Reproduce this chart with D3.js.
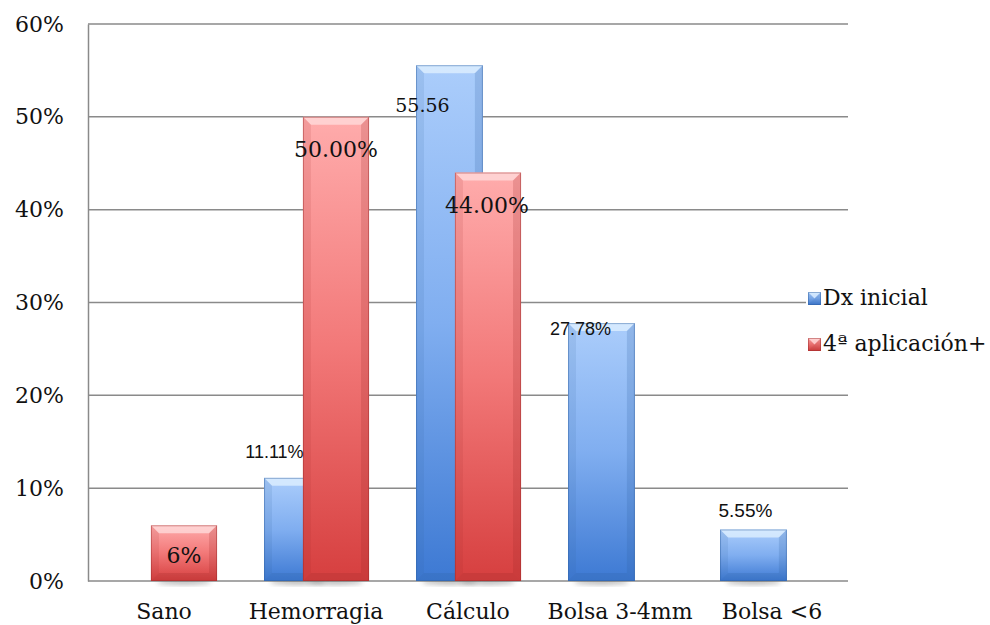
<!DOCTYPE html>
<html>
<head>
<meta charset="utf-8">
<script src="https://cdn.jsdelivr.net/npm/d3@7"></script>
<style>
  body { margin: 0; background: #fff; }
  svg { display: block; }
</style>
</head>
<body>
<svg id="chart"></svg>
<script>
const categories = ["Sano", "Hemorragia", "Cálculo", "Bolsa 3-4mm", "Bolsa <6"];
const seriesNames = ["Dx inicial", "4ª aplicación+"];
const dxInicial = [0, 11.11, 55.56, 27.78, 5.55];
const aplicacion4 = [6, 50, 44, 0, 0];
const dxLabels = [null, "11.11%", "55.56", "27.78%", "5.55%"];
const apLabels = ["6%", "50.00%", "44.00%", null, null];
const yTicks = [0, 10, 20, 30, 40, 50, 60];

// label placement / style (offset from bar centre and bar top)
const dxLabelStyle = [
  null,
  {dx: -23, dy: -20, font: "Liberation Sans", size: 18},
  {dx: -27, dy: 47, font: "DejaVu Serif", size: 19},
  {dx: -21, dy: 12, font: "Liberation Sans", size: 18},
  {dx: -8, dy: -12, font: "Liberation Sans", size: 19}
];
const apLabelStyle = [
  {dx: 0, dy: 38, font: "DejaVu Serif", size: 22},
  {dx: 0, dy: 40, font: "DejaVu Serif", size: 22},
  {dx: -1, dy: 40, font: "DejaVu Serif", size: 22},
  null, null
];

const width = 990, height = 625;
const margin = {top: 24, right: 142, bottom: 44, left: 88};
const grid = "#8a8a8a";
const serif = "'DejaVu Serif', serif";

const svg = d3.select("#chart").attr("width", width).attr("height", height);
const defs = svg.append("defs");

function gradient(id, stops) {
  const g = defs.append("linearGradient").attr("id", id)
    .attr("x1", 0).attr("y1", 0).attr("x2", 0).attr("y2", 1);
  stops.forEach(s => g.append("stop").attr("offset", s[0]).attr("stop-color", s[1]));
}
gradient("gBlue", [[0, "#abcdfb"], [0.5, "#80aef0"], [1, "#3d79d3"]]);
gradient("gRed", [[0, "#ffacac"], [0.5, "#f27878"], [1, "#d63f3f"]]);
defs.append("filter").attr("id", "blur").attr("x", "-50%").attr("y", "-50%")
  .attr("width", "200%").attr("height", "200%")
  .append("feGaussianBlur").attr("stdDeviation", 2.5);

const x = d3.scaleBand()
  .domain(categories)
  .range([margin.left, width - margin.right]);

const y = d3.scaleLinear()
  .domain([0, 60])
  .range([height - margin.bottom, margin.top]);

const series = [
  {name: seriesNames[0], values: dxInicial, labels: dxLabels, styles: dxLabelStyle,
   offset: 0.158, widthFrac: 0.44, fill: "url(#gBlue)", edge: "#2f5f9f", light: "#e2f1ff"},
  {name: seriesNames[1], values: aplicacion4, labels: apLabels, styles: apLabelStyle,
   offset: 0.414, widthFrac: 0.435, fill: "url(#gRed)", edge: "#9c2a2a", light: "#ffdede"}
];

// gridlines
svg.append("g")
  .selectAll("line")
  .data(yTicks)
  .enter().append("line")
    .attr("x1", margin.left)
    .attr("x2", width - margin.right)
    .attr("y1", d => y(d))
    .attr("y2", d => y(d))
    .attr("stroke", grid)
    .attr("stroke-width", 1.5);

// y axis
svg.append("g")
  .attr("transform", `translate(${margin.left},0)`)
  .call(d3.axisLeft(y).tickValues(yTicks).tickSize(0).tickPadding(24).tickFormat(d => d + "%"))
  .call(g => g.select(".domain").attr("stroke", grid).attr("stroke-width", 1.5))
  .call(g => g.selectAll("text")
    .attr("font-family", serif).attr("font-size", 22).attr("fill", "#111"));

// x labels
svg.append("g")
  .selectAll("text")
  .data(categories)
  .enter().append("text")
    .attr("x", d => x(d) + x.bandwidth() / 2)
    .attr("y", 619)
    .attr("text-anchor", "middle")
    .attr("font-family", serif)
    .attr("font-size", 22)
    .attr("fill", "#111")
    .text(d => d);

function drawBar(g, bx, by, bw, bh, s) {
  const b = Math.min(8, bh / 2);
  g.append("rect").attr("x", bx).attr("y", by).attr("width", bw).attr("height", bh)
    .attr("fill", s.fill);
  // top bevel
  g.append("path")
    .attr("d", `M${bx},${by}L${bx + bw},${by}L${bx + bw - b},${by + b}L${bx + b},${by + b}Z`)
    .attr("fill", s.light).attr("opacity", 0.75);
  // side bevels
  g.append("path")
    .attr("d", `M${bx},${by}L${bx + b},${by + b}L${bx + b},${by + bh - b}L${bx},${by + bh}Z`)
    .attr("fill", s.edge).attr("opacity", 0.12);
  g.append("path")
    .attr("d", `M${bx + bw},${by}L${bx + bw - b},${by + b}L${bx + bw - b},${by + bh - b}L${bx + bw},${by + bh}Z`)
    .attr("fill", s.edge).attr("opacity", 0.2);
  g.append("path")
    .attr("d", `M${bx},${by + bh}L${bx + b},${by + bh - b}L${bx + bw - b},${by + bh - b}L${bx + bw},${by + bh}Z`)
    .attr("fill", s.edge).attr("opacity", 0.22);
  g.append("rect").attr("x", bx + 0.5).attr("y", by + 0.5).attr("width", bw - 1).attr("height", bh - 1)
    .attr("fill", "none").attr("stroke", s.edge).attr("stroke-opacity", 0.45);
}

const bars = svg.append("g");
const shadows = bars.append("g");
series.forEach(s => {
  const g = bars.append("g");
  s.values.forEach((v, i) => {
    if (!v) return;
    const bx = x(categories[i]) + x.bandwidth() * s.offset;
    const bw = x.bandwidth() * s.widthFrac;
    shadows.append("ellipse")
      .attr("cx", bx + bw / 2).attr("cy", y(0) + 1)
      .attr("rx", bw / 2 - 6).attr("ry", 2.5)
      .attr("fill", "#555").attr("opacity", 0.45).attr("filter", "url(#blur)");
    drawBar(g, bx, y(v), bw, y(0) - y(v), s);
  });
});

// data labels
series.forEach(s => {
  s.values.forEach((v, i) => {
    const t = s.labels[i], st = s.styles[i];
    if (!t || !st) return;
    const bx = x(categories[i]) + x.bandwidth() * s.offset;
    const bw = x.bandwidth() * s.widthFrac;
    svg.append("text")
      .attr("x", bx + bw / 2 + st.dx)
      .attr("y", y(v) + st.dy)
      .attr("text-anchor", "middle")
      .attr("font-family", `'${st.font}', sans-serif`)
      .attr("font-size", st.size)
      .attr("fill", "#111")
      .text(t);
  });
});

// legend
const legend = svg.append("g").attr("transform", "translate(806,284)");
legend.append("rect").attr("x", 0).attr("y", 0).attr("width", 184).attr("height", 76).attr("fill", "#fff");
series.forEach((s, i) => {
  const row = legend.append("g").attr("transform", `translate(2,${8 + i * 46})`);
  drawBar(row, 0, 0, 13, 13, s);
  row.append("text")
    .attr("x", 15).attr("y", 13)
    .attr("font-family", serif).attr("font-size", 22).attr("fill", "#111")
    .text(s.name);
});
</script>
</body>
</html>
